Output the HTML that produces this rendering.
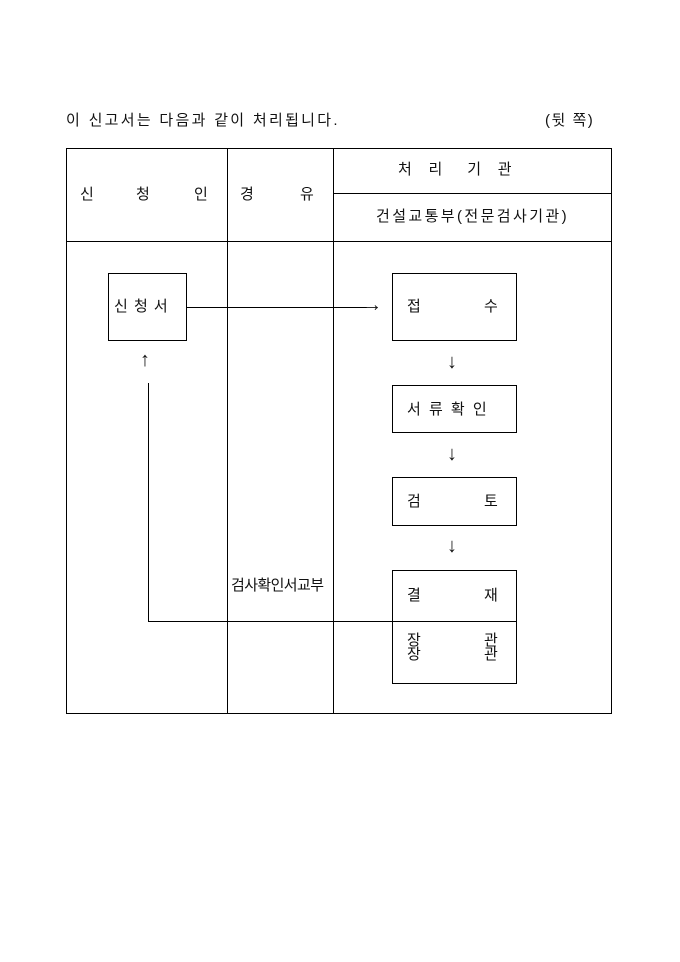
<!DOCTYPE html>
<html><head><meta charset="utf-8"><style>
body{margin:0;width:680px;height:962px;background:#fff;position:relative;font-family:"Liberation Sans","Noto Sans CJK KR","NanumGothic",sans-serif;color:#111;font-size:15px}
.a{position:absolute;white-space:pre;line-height:1}
.r{font-size:20px}
.h{position:absolute;height:1px;background:#000}
.v{position:absolute;width:1px;background:#000}
.b{position:absolute;border:1px solid #000;box-sizing:border-box}
</style></head><body>
<div class="a" style="left:66px;top:113px;letter-spacing:2.3px">이 신고서는 다음과 같이 처리됩니다.</div>
<div class="a" style="left:545px;top:113px;letter-spacing:1.5px">(뒷 쪽)</div>
<div class="b" style="left:66px;top:148px;width:546px;height:566px"></div>
<div class="v" style="left:227px;top:148px;height:566px"></div>
<div class="v" style="left:333px;top:148px;height:566px"></div>
<div class="h" style="left:66px;top:241px;width:546px"></div>
<div class="h" style="left:333px;top:193px;width:279px"></div>
<div class="a" style="left:80px;top:187px">신</div>
<div class="a" style="left:136px;top:187px">청</div>
<div class="a" style="left:194px;top:187px">인</div>
<div class="a" style="left:240px;top:187px">경</div>
<div class="a" style="left:300px;top:187px">유</div>
<div class="a" style="left:398px;top:162px">처&nbsp;&nbsp;&nbsp;&nbsp;리&nbsp;&nbsp;&nbsp;&nbsp;&nbsp;&nbsp;기&nbsp;&nbsp;&nbsp;&nbsp;관</div>
<div class="a" style="left:376px;top:209px;letter-spacing:2.4px">건설교통부(전문검사기관)</div>
<div class="b" style="left:108px;top:273px;width:79px;height:68px"></div>
<div class="a" style="left:114px;top:299px;letter-spacing:1px">신 청 서</div>
<div class="h" style="left:187px;top:307px;width:180px"></div>
<div class="a r" style="left:362px;top:295px">→</div>
<div class="a r" style="left:140px;top:350px">↑</div>
<div class="v" style="left:148px;top:383px;height:238px"></div>
<div class="h" style="left:148px;top:621px;width:368px"></div>
<div class="b" style="left:392px;top:273px;width:125px;height:68px"></div>
<div class="a" style="left:407px;top:299px">접</div>
<div class="a" style="left:484px;top:299px">수</div>
<div class="a r" style="left:447px;top:352px">↓</div>
<div class="b" style="left:392px;top:385px;width:125px;height:48px"></div>
<div class="a" style="left:407px;top:402px;letter-spacing:2px">서 류 확 인</div>
<div class="a r" style="left:447px;top:444px">↓</div>
<div class="b" style="left:392px;top:477px;width:125px;height:49px"></div>
<div class="a" style="left:407px;top:494px">검</div>
<div class="a" style="left:484px;top:494px">토</div>
<div class="a r" style="left:447px;top:536px">↓</div>
<div class="b" style="left:392px;top:570px;width:125px;height:114px"></div>
<div class="a" style="left:407px;top:588px">결</div>
<div class="a" style="left:484px;top:588px">재</div>
<div class="a" style="left:407px;top:633px">장</div>
<div class="a" style="left:407px;top:647px">장</div>
<div class="a" style="left:484px;top:633px">관</div>
<div class="a" style="left:484px;top:647px">관</div>
<div class="a" style="left:231px;top:578px;letter-spacing:-0.6px">검사확인서교부</div>
</body></html>
